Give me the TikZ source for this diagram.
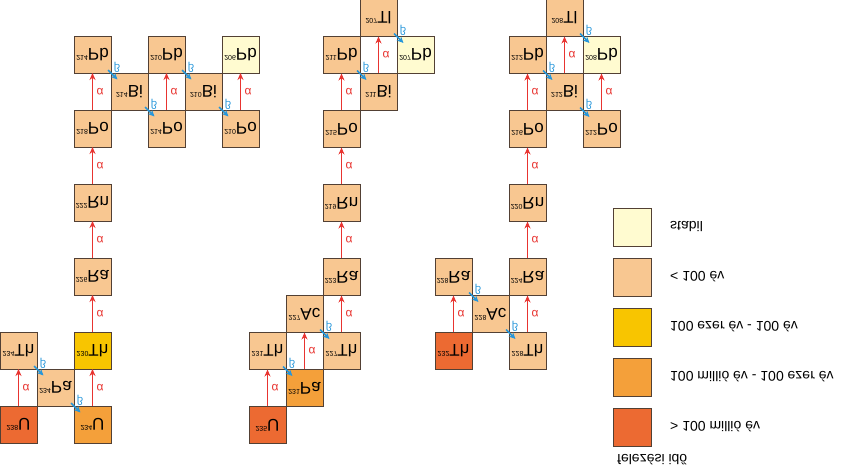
\documentclass[tikz,border=0pt]{standalone}
\usepackage{fontspec}
\setmainfont{Liberation Sans}
\usetikzlibrary{positioning, arrows.meta}
\definecolor{boxline}{RGB}{82,64,52}
\definecolor{stablecol}{RGB}{255,251,208}
\definecolor{shortcol}{RGB}{248,199,145}
\definecolor{midcol}{RGB}{248,197,0}
\definecolor{longcol}{RGB}{244,160,58}
\definecolor{vlongcol}{RGB}{236,106,50}
\definecolor{alphared}{RGB}{232,52,48}
\definecolor{betablue}{RGB}{38,150,218}
\newcommand{\vflip}[1]{\scalebox{1}[-1]{#1}}
\newcommand{\nuc}[2]{\vflip{\raisebox{7pt}{\fontsize{7pt}{7pt}\selectfont #1}\fontsize{17pt}{17pt}\selectfont #2}}
\tikzstyle{nuclide} = [rectangle, minimum width=37pt, minimum height=37pt, inner sep=0pt, outer sep=0pt, draw=boxline, line width=0.9pt]
\tikzstyle{stablebox} = [nuclide, fill=stablecol]
\tikzstyle{shortbox} = [nuclide, fill=shortcol]
\tikzstyle{midbox} = [nuclide, fill=midcol]
\tikzstyle{longbox} = [nuclide, fill=longcol]
\tikzstyle{vlongbox} = [nuclide, fill=vlongcol]
\tikzstyle{legendbox} = [nuclide, minimum width=38pt, minimum height=38pt]
\tikzstyle{legendtext} = [font=\fontsize{14pt}{14pt}\selectfont, inner sep=0pt]
\tikzstyle{alphaarrow} = [-{Stealth[length=7pt,width=6pt]}, draw=alphared, line width=1.4pt]
\tikzstyle{alphalabel} = [right=3.5pt, text=alphared, font=\fontsize{12pt}{12pt}\selectfont, inner sep=0pt]
\tikzstyle{betaarrow} = [-{Stealth[length=6.5pt,width=6pt]}, draw=betablue, line width=1.5pt, shorten <=22pt, shorten >=17pt]
\tikzstyle{betalabel} = [xshift=6pt, yshift=6pt, text=betablue, font=\fontsize{11pt}{11pt}\selectfont, inner sep=0pt]

\begin{document}
\begin{tikzpicture}[x=1pt, y=1pt]
\useasboundingbox (0,0) rectangle (845,473);

% uranium-radium
\node (u238) [vlongbox] at (18.5,48.5) {\nuc{238}{U}};
\node (th234) [shortbox, above=37pt of u238] {\nuc{234}{Th}};
\node (pa234) [shortbox, below right=0pt of th234] {\nuc{234}{Pa}};
\node (u234) [longbox, below right=0pt of pa234] {\nuc{234}{U}};
\node (th230) [midbox, above=37pt of u234] {\nuc{230}{Th}};
\node (ra226) [shortbox, above=37pt of th230] {\nuc{226}{Ra}};
\node (rn222) [shortbox, above=37pt of ra226] {\nuc{222}{Rn}};
\node (po218) [shortbox, above=37pt of rn222] {\nuc{218}{Po}};
\node (pb214) [shortbox, above=37pt of po218] {\nuc{214}{Pb}};
\node (bi214) [shortbox, below right=0pt of pb214] {\nuc{214}{Bi}};
\node (po214) [shortbox, below right=0pt of bi214] {\nuc{214}{Po}};
\node (pb210) [shortbox, above=37pt of po214] {\nuc{210}{Pb}};
\node (bi210) [shortbox, below right=0pt of pb210] {\nuc{210}{Bi}};
\node (po210) [shortbox, below right=0pt of bi210] {\nuc{210}{Po}};
\node (pb206) [stablebox, above=37pt of po210] {\nuc{206}{Pb}};

% actinium
\node (u235) [vlongbox] at (267.5,48) {\nuc{235}{U}};
\node (th231) [shortbox, above=37pt of u235] {\nuc{231}{Th}};
\node (pa231) [longbox, below right=0pt of th231] {\nuc{231}{Pa}};
\node (ac227) [shortbox, above=37pt of pa231] {\nuc{227}{Ac}};
\node (th227) [shortbox, below right=0pt of ac227] {\nuc{227}{Th}};
\node (ra223) [shortbox, above=37pt of th227] {\nuc{223}{Ra}};
\node (rn219) [shortbox, above=37pt of ra223] {\nuc{219}{Rn}};
\node (po215) [shortbox, above=37pt of rn219] {\nuc{215}{Po}};
\node (pb211) [shortbox, above=37pt of po215] {\nuc{211}{Pb}};
\node (bi211) [shortbox, below right=0pt of pb211] {\nuc{211}{Bi}};
\node (tl207) [shortbox, above=37pt of bi211] {\nuc{207}{Tl}};
\node (pb207) [stablebox, below right=0pt of tl207] {\nuc{207}{Pb}};

% thorium
\node (th232) [vlongbox] at (453.5,122) {\nuc{232}{Th}};
\node (ra228) [shortbox, above=37pt of th232] {\nuc{228}{Ra}};
\node (ac228) [shortbox, below right=0pt of ra228] {\nuc{228}{Ac}};
\node (th228) [shortbox, below right=0pt of ac228] {\nuc{228}{Th}};
\node (ra224) [shortbox, above=37pt of th228] {\nuc{224}{Ra}};
\node (rn220) [shortbox, above=37pt of ra224] {\nuc{220}{Rn}};
\node (po216) [shortbox, above=37pt of rn220] {\nuc{216}{Po}};
\node (pb212) [shortbox, above=37pt of po216] {\nuc{212}{Pb}};
\node (bi212) [shortbox, below right=0pt of pb212] {\nuc{212}{Bi}};
\node (tl208) [shortbox, above=37pt of bi212] {\nuc{208}{Tl}};
\node (pb208) [stablebox, below right=0pt of tl208] {\nuc{208}{Pb}};
\node (po212) [shortbox, below right=0pt of bi212] {\nuc{212}{Po}};

\draw [alphaarrow] (u238) -- node[alphalabel] {\vflip{α}} (th234);
\draw [alphaarrow] (u234) -- node[alphalabel] {\vflip{α}} (th230);
\draw [alphaarrow] (th230) -- node[alphalabel] {\vflip{α}} (ra226);
\draw [alphaarrow] (ra226) -- node[alphalabel] {\vflip{α}} (rn222);
\draw [alphaarrow] (rn222) -- node[alphalabel] {\vflip{α}} (po218);
\draw [alphaarrow] (po218) -- node[alphalabel] {\vflip{α}} (pb214);
\draw [alphaarrow] (po214) -- node[alphalabel] {\vflip{α}} (pb210);
\draw [alphaarrow] (po210) -- node[alphalabel] {\vflip{α}} (pb206);
\draw [betaarrow] (th234.center) -- node[betalabel] {\vflip{β}} (pa234.center);
\draw [betaarrow] (pa234.center) -- node[betalabel] {\vflip{β}} (u234.center);
\draw [betaarrow] (pb214.center) -- node[betalabel] {\vflip{β}} (bi214.center);
\draw [betaarrow] (bi214.center) -- node[betalabel] {\vflip{β}} (po214.center);
\draw [betaarrow] (pb210.center) -- node[betalabel] {\vflip{β}} (bi210.center);
\draw [betaarrow] (bi210.center) -- node[betalabel] {\vflip{β}} (po210.center);

\draw [alphaarrow] (u235) -- node[alphalabel] {\vflip{α}} (th231);
\draw [alphaarrow] (pa231) -- node[alphalabel] {\vflip{α}} (ac227);
\draw [alphaarrow] (th227) -- node[alphalabel] {\vflip{α}} (ra223);
\draw [alphaarrow] (ra223) -- node[alphalabel] {\vflip{α}} (rn219);
\draw [alphaarrow] (rn219) -- node[alphalabel] {\vflip{α}} (po215);
\draw [alphaarrow] (po215) -- node[alphalabel] {\vflip{α}} (pb211);
\draw [alphaarrow] (bi211) -- node[alphalabel] {\vflip{α}} (tl207);
\draw [betaarrow] (th231.center) -- node[betalabel] {\vflip{β}} (pa231.center);
\draw [betaarrow] (ac227.center) -- node[betalabel] {\vflip{β}} (th227.center);
\draw [betaarrow] (pb211.center) -- node[betalabel] {\vflip{β}} (bi211.center);
\draw [betaarrow] (tl207.center) -- node[betalabel] {\vflip{β}} (pb207.center);

\draw [alphaarrow] (th232) -- node[alphalabel] {\vflip{α}} (ra228);
\draw [alphaarrow] (th228) -- node[alphalabel] {\vflip{α}} (ra224);
\draw [alphaarrow] (ra224) -- node[alphalabel] {\vflip{α}} (rn220);
\draw [alphaarrow] (rn220) -- node[alphalabel] {\vflip{α}} (po216);
\draw [alphaarrow] (po216) -- node[alphalabel] {\vflip{α}} (pb212);
\draw [alphaarrow] (bi212) -- node[alphalabel] {\vflip{α}} (tl208);
\draw [alphaarrow] (po212) -- node[alphalabel] {\vflip{α}} (pb208);
\draw [betaarrow] (ra228.center) -- node[betalabel] {\vflip{β}} (ac228.center);
\draw [betaarrow] (ac228.center) -- node[betalabel] {\vflip{β}} (th228.center);
\draw [betaarrow] (pb212.center) -- node[betalabel] {\vflip{β}} (bi212.center);
\draw [betaarrow] (tl208.center) -- node[betalabel] {\vflip{β}} (pb208.center);
\draw [betaarrow] (bi212.center) -- node[betalabel] {\vflip{β}} (po212.center);

% legend
\node (legstable) [legendbox, fill=stablecol] at (632,246) {};
\node (legshort) [legendbox, fill=shortcol, below=12pt of legstable] {};
\node (legmid) [legendbox, fill=midcol, below=12pt of legshort] {};
\node (leglong) [legendbox, fill=longcol, below=12pt of legmid] {};
\node (legvlong) [legendbox, fill=vlongcol, below=12pt of leglong] {};
\node (txtstable) [legendtext, right=19pt of legstable] {\vflip{stabil}};
\node (txtshort) [legendtext, right=19pt of legshort] {\vflip{< 100 év}};
\node (txtmid) [legendtext, right=19pt of legmid] {\vflip{100 ezer év - 100 év}};
\node (txtlong) [legendtext, right=19pt of leglong] {\vflip{100 millió év - 100 ezer év}};
\node (txtvlong) [legendtext, right=19pt of legvlong] {\vflip{> 100 millió év}};
\node (legtitle) [legendtext, below=8pt of legvlong.south west, anchor=north west, xshift=4pt] {\vflip{felezési idő}};
\end{tikzpicture}
\end{document}
